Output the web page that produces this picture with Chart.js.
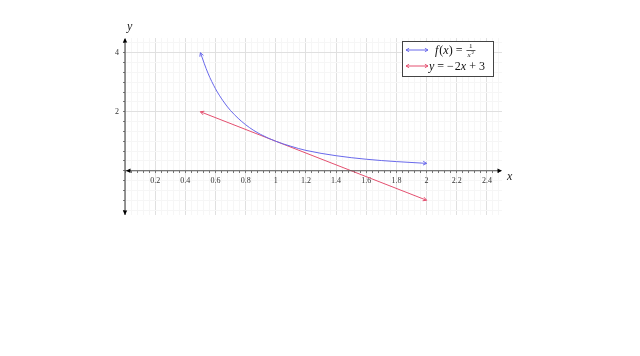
<!DOCTYPE html>
<html>
<head>
<meta charset="utf-8">
<script src="https://cdn.jsdelivr.net/npm/chart.js@4.4.0/dist/chart.umd.min.js"></script>
<style>
  body { margin: 0; background: #fff; }
  canvas { display: block; }
</style>
</head>
<body>
<canvas id="myChart" width="640" height="356"></canvas>
<script>
// values
var curveX = [0.5, 0.55, 0.6, 0.65, 0.7, 0.8, 0.9, 1.0, 1.1, 1.2, 1.4, 1.6, 1.8, 2.0]
var curveY = [4, 3.31, 2.78, 2.37, 2.04, 1.56, 1.23, 1, 0.83, 0.69, 0.51, 0.39, 0.31, 0.25]
var lineX = [0.5, 2]
var lineY = [2, -1]
var xLabels = [0.2, 0.4, 0.6, 0.8, 1, 1.2, 1.4, 1.6, 1.8, 2, 2.2, 2.4]
var yLabels = [2, 4]

var blue = "rgb(105, 105, 235)"
var red = "rgb(228, 80, 112)"
var serif = "'Liberation Serif', 'DejaVu Serif', serif"

function toPoints(xs, ys) {
	return xs.map(function(x, i){ return {x: x, y: ys[i]} })
}

function isLabel(list, v) {
	return list.some(function(e){ return Math.abs(e - v) < 1e-6 })
}

function arrowHead(ctx, x, y, ang, color, size) {
	ctx.save()
	ctx.strokeStyle = color
	ctx.lineWidth = 1
	ctx.beginPath()
	ctx.moveTo(x - size * Math.cos(ang - 0.5), y - size * Math.sin(ang - 0.5))
	ctx.lineTo(x, y)
	ctx.lineTo(x - size * Math.cos(ang + 0.5), y - size * Math.sin(ang + 0.5))
	ctx.stroke()
	ctx.restore()
}

function solidArrow(ctx, x, y, ang) {
	ctx.save()
	ctx.fillStyle = "#000"
	ctx.beginPath()
	ctx.moveTo(x, y)
	ctx.lineTo(x - 5 * Math.cos(ang - 0.45), y - 5 * Math.sin(ang - 0.45))
	ctx.lineTo(x - 5 * Math.cos(ang + 0.45), y - 5 * Math.sin(ang + 0.45))
	ctx.closePath()
	ctx.fill()
	ctx.restore()
}

// draws pieces of text one after another, each with its own font
function textRun(ctx, x, y, parts) {
	parts.forEach(function(p) {
		ctx.font = p[1]
		ctx.fillText(p[0], x, y)
		x += ctx.measureText(p[0]).width + (p[2] || 0)
	})
	return x
}

var decorations = {
	id: 'decorations',
	afterDatasetsDraw: function(chart) {
		var ctx = chart.ctx
		var xs = chart.scales.x, ys = chart.scales.y
		var area = chart.chartArea
		var x0 = xs.getPixelForValue(0), y0 = ys.getPixelForValue(0)

		// axes
		ctx.save()
		ctx.strokeStyle = "#555"
		ctx.lineWidth = 1.2
		ctx.beginPath()
		ctx.moveTo(x0, y0); ctx.lineTo(area.right - 1, y0)
		ctx.moveTo(x0, area.top + 1); ctx.lineTo(x0, area.bottom)
		ctx.stroke()
		ctx.restore()
		solidArrow(ctx, area.right, y0, 0)
		solidArrow(ctx, x0 + 1, y0, Math.PI)
		solidArrow(ctx, x0, area.top, -Math.PI / 2)
		solidArrow(ctx, x0, area.bottom, Math.PI / 2)

		ctx.save()
		ctx.fillStyle = "#333"
		ctx.font = "8px " + serif
		ctx.textAlign = "right"
		ctx.textBaseline = "middle"
		yLabels.forEach(function(v) { ctx.fillText(String(v), x0 - 6, ys.getPixelForValue(v)) })
		ctx.textAlign = "left"
		ctx.fillStyle = "#222"
		ctx.font = "italic 12px " + serif
		ctx.fillText("x", area.right + 5, y0 + 6)
		ctx.fillText("y", x0 + 2, area.top - 11)
		ctx.restore()

		// arrow heads at both ends of each plotted line
		chart.data.datasets.forEach(function(ds, i) {
			var pts = chart.getDatasetMeta(i).data
			var a = pts[0], b = pts[1], n = pts.length
			arrowHead(ctx, a.x, a.y, Math.atan2(a.y - b.y, a.x - b.x), ds.borderColor, 4)
			var c = pts[n - 1], d = pts[n - 2]
			arrowHead(ctx, c.x, c.y, Math.atan2(c.y - d.y, c.x - d.x), ds.borderColor, 4)
		})

		// legend
		var lx = 402, ly = 41, lw = 91, lh = 35
		ctx.save()
		ctx.fillStyle = "#fff"
		ctx.fillRect(lx, ly, lw, lh)
		ctx.strokeStyle = "#444"
		ctx.lineWidth = 1
		ctx.strokeRect(lx + 0.5, ly + 0.5, lw, lh)
		var rows = [{y: 50, color: blue}, {y: 66, color: red}]
		rows.forEach(function(r) {
			ctx.strokeStyle = r.color
			ctx.beginPath(); ctx.moveTo(406, r.y); ctx.lineTo(428, r.y); ctx.stroke()
			arrowHead(ctx, 428, r.y, 0, r.color, 3.5)
			arrowHead(ctx, 406, r.y, Math.PI, r.color, 3.5)
		})
		ctx.fillStyle = "#111"
		ctx.textBaseline = "alphabetic"
		var it = "italic 12px " + serif, rm = "12px " + serif
		var fx = textRun(ctx, 435, 54, [["f", it, 1], ["(", rm], ["x", it], [")", rm, 3], ["=", rm, 4]])
		ctx.font = "7px " + serif
		ctx.fillText("1", fx + 2.5, 48)
		ctx.fillRect(fx, 50, 9, 0.7)
		textRun(ctx, fx + 1, 57, [["x", "italic 7px " + serif]])
		ctx.font = "5px " + serif
		ctx.fillText("2", fx + 5, 54)
		textRun(ctx, 429, 70, [["y", it, 3], ["=", rm, 3], ["\u2212", rm, 1], ["2", rm], ["x", it, 3], ["+", rm, 3], ["3", rm]])
		ctx.restore()
	}
}

var config = {
	type: 'scatter',
	data: {
		datasets: [
			{label: "f(x) = 1/x\u00b2", data: toPoints(curveX, curveY), showLine: true, borderColor: blue, borderWidth: 1, pointRadius: 0, cubicInterpolationMode: 'monotone', fill: false},
			{label: "y = \u22122x + 3", data: toPoints(lineX, lineY), showLine: true, borderColor: red, borderWidth: 1, pointRadius: 0, fill: false}
		]
	},
	options: {
		responsive: false,
		maintainAspectRatio: false,
		animation: false,
		layout: { padding: {left: 125, right: 138, top: 38, bottom: 141} },
		plugins: { legend: {display: false}, tooltip: {enabled: false} },
		scales: {
			x: {
				type: 'linear', min: 0, max: 2.5,
				position: {y: 0},
				afterBuildTicks: function(scale) {
					var t = []
					for (var i = 0; i <= 62; i++) t.push({value: Math.round(i * 4) / 100})
					scale.ticks = t
				},
				border: {display: false},
				grid: {
					color: function(c) { return isLabel(xLabels.concat([0]), c.tick.value) ? "#e0e0e0" : "#f6f6f6" },
					tickColor: "#777", tickLength: 2, drawTicks: true
				},
				ticks: {
					autoSkip: false, maxRotation: 0, padding: 3,
					color: "#333", font: {family: serif, size: 8},
					callback: function(v) { return isLabel(xLabels, v) ? String(v) : "" }
				}
			},
			y: {
				type: 'linear', min: -1.5, max: 4.5,
				position: {x: 0},
				afterBuildTicks: function(scale) {
					var t = []
					for (var k = -4; k <= 13; k++) t.push({value: k / 3})
					scale.ticks = t
				},
				border: {display: false},
				grid: {
					color: function(c) { return isLabel([0, 2, 4], c.tick.value) ? "#e0e0e0" : "#f6f6f6" },
					tickColor: "#777", tickLength: 2, drawTicks: true
				},
				ticks: { display: false }
			}
		}
	},
	plugins: [decorations]
}

var myChart = new Chart(document.getElementById("myChart").getContext('2d'), config)
</script>
</body>
</html>
